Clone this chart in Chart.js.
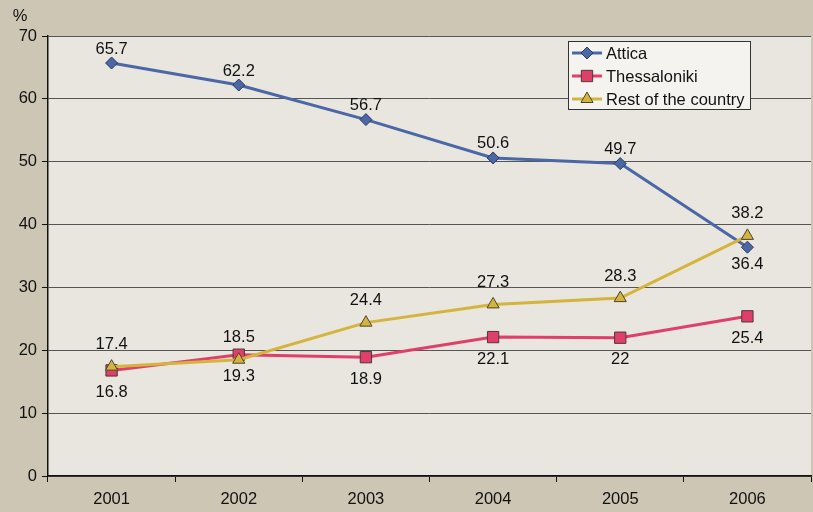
<!DOCTYPE html>
<html>
<head>
<meta charset="utf-8">
<script src="https://cdn.jsdelivr.net/npm/chart.js@4"></script>
<style>
  html, body { margin: 0; padding: 0; background: #cdc6b4; overflow: hidden; }
  #wrap { width: 813px; height: 512px; overflow: hidden; position: relative; }
  #box { width: 820px; height: 512px; position: absolute; left: 0; top: 0; }
</style>
</head>
<body>
<div id="wrap"><div id="box"><canvas id="c"></canvas></div></div>
<script>
const years = ['2001', '2002', '2003', '2004', '2005', '2006'];
const attica = [65.7, 62.2, 56.7, 50.6, 49.7, 36.4];
const thessaloniki = [16.8, 19.3, 18.9, 22.1, 22, 25.4];
const restOfCountry = [17.4, 18.5, 24.4, 27.3, 28.3, 38.2];
const yTicks = [0, 10, 20, 30, 40, 50, 60, 70];

const FONT = '"Liberation Sans", Arial, sans-serif';
const TEXT_SIZE = 16.5;

// label placement per series: -1 above the point, +1 below
const labelSide = [
  [-1, -1, -1, -1, -1, 1],
  [1, 1, 1, 1, 1, 1],
  [-1, -1, -1, -1, -1, -1]
];
// vertical gap from point to label centre, [above, below], per series
const labelGap = [[14, 17], [22, 22], [22, 22]];

const plotBg = {
  id: 'plotBg',
  beforeDraw(chart) {
    const { ctx, chartArea: a } = chart;
    ctx.save();
    ctx.fillStyle = '#e9e5df';
    ctx.fillRect(a.left, a.top, a.right - a.left, a.bottom - a.top);
    ctx.restore();
  }
};

const valueLabels = {
  id: 'valueLabels',
  afterDatasetsDraw(chart) {
    const { ctx } = chart;
    ctx.save();
    ctx.font = TEXT_SIZE + 'px ' + FONT;
    ctx.fillStyle = '#111';
    ctx.textAlign = 'center';
    ctx.textBaseline = 'middle';
    chart.data.datasets.forEach((ds, i) => {
      const meta = chart.getDatasetMeta(i);
      meta.data.forEach((pt, j) => {
        const side = labelSide[i][j];
        const y = pt.y + (side < 0 ? -labelGap[i][0] : labelGap[i][1]);
        ctx.fillText(String(ds.data[j]), pt.x, y);
      });
    });
    ctx.restore();
  }
};

const boxLegend = {
  id: 'boxLegend',
  afterDraw(chart) {
    const { ctx } = chart;
    const x = 568, y = 41, w = 182, h = 68;
    ctx.save();
    ctx.fillStyle = '#f5f3ef';
    ctx.fillRect(x, y, w, h);
    ctx.strokeStyle = '#333';
    ctx.lineWidth = 1;
    ctx.strokeRect(x + 0.5, y + 0.5, w, h);
    ctx.font = TEXT_SIZE + 'px ' + FONT;
    ctx.textBaseline = 'middle';
    ctx.textAlign = 'left';
    chart.data.datasets.forEach((ds, i) => {
      const cy = y + 12 + i * 23;
      ctx.strokeStyle = ds.borderColor;
      ctx.lineWidth = 3;
      ctx.beginPath();
      ctx.moveTo(x + 4, cy);
      ctx.lineTo(x + 34, cy);
      ctx.stroke();
      ctx.fillStyle = ds.pointBackgroundColor;
      ctx.strokeStyle = ds.pointBorderColor;
      ctx.lineWidth = 1;
      Chart.helpers.drawPoint(ctx, {
        pointStyle: ds.pointStyle, radius: ds.pointRadius, rotation: 0, borderWidth: 1
      }, x + 19, cy);
      ctx.fillStyle = '#111';
      ctx.fillText(ds.label, x + 38, cy + 1);
    });
    ctx.restore();
  }
};

const unitLabel = {
  id: 'unitLabel',
  afterDraw(chart) {
    const { ctx } = chart;
    ctx.save();
    ctx.font = TEXT_SIZE + 'px ' + FONT;
    ctx.fillStyle = '#111';
    ctx.textAlign = 'center';
    ctx.textBaseline = 'middle';
    ctx.fillText('%', 20, 16);
    ctx.restore();
  }
};

new Chart(document.getElementById('c'), {
  type: 'line',
  data: {
    labels: years,
    datasets: [
      {
        label: 'Attica', data: attica, order: 2,
        borderColor: '#4a67a6', borderWidth: 3,
        pointStyle: 'rectRot', pointRadius: 6,
        pointBackgroundColor: '#4a67a6', pointBorderColor: '#2c3a5c', pointBorderWidth: 1
      },
      {
        label: 'Thessaloniki', data: thessaloniki, order: 1,
        borderColor: '#e03f6a', borderWidth: 3,
        pointStyle: 'rect', pointRadius: 8,
        pointBackgroundColor: '#e03f6a', pointBorderColor: '#4a3a3a', pointBorderWidth: 1
      },
      {
        label: 'Rest of the country', data: restOfCountry, order: 0,
        borderColor: '#d4b43c', borderWidth: 3,
        pointStyle: 'triangle', pointRadius: 7,
        pointBackgroundColor: '#d4b43c', pointBorderColor: '#4a4530', pointBorderWidth: 1
      }
    ]
  },
  options: {
    responsive: true,
    maintainAspectRatio: false,
    animation: false,
    devicePixelRatio: 1,
    layout: { padding: { top: 36, right: 4, left: 0, bottom: 0 } },
    plugins: { legend: { display: false }, tooltip: { enabled: false } },
    elements: { line: { tension: 0 } },
    scales: {
      x: {
        offset: true,
        grid: { offset: true, drawOnChartArea: false, tickLength: 6, color: '#111', tickWidth: 1 },
        border: { color: '#111', width: 1.5 },
        ticks: { color: '#111', font: { family: FONT, size: TEXT_SIZE }, padding: 8, maxRotation: 0 },
        afterFit(s) { s.height = 36; }
      },
      y: {
        min: 0, max: 70,
        afterBuildTicks(s) { s.ticks = yTicks.map(v => ({ value: v })); },
        grid: { color: '#555', lineWidth: 1, tickLength: 6, tickColor: '#111' },
        border: { color: '#111', width: 1.5 },
        ticks: { color: '#111', font: { family: FONT, size: TEXT_SIZE }, padding: 5 },
        afterFit(s) { s.width = 48; }
      }
    }
  },
  plugins: [plotBg, valueLabels, boxLegend, unitLabel]
});
</script>
</body>
</html>
